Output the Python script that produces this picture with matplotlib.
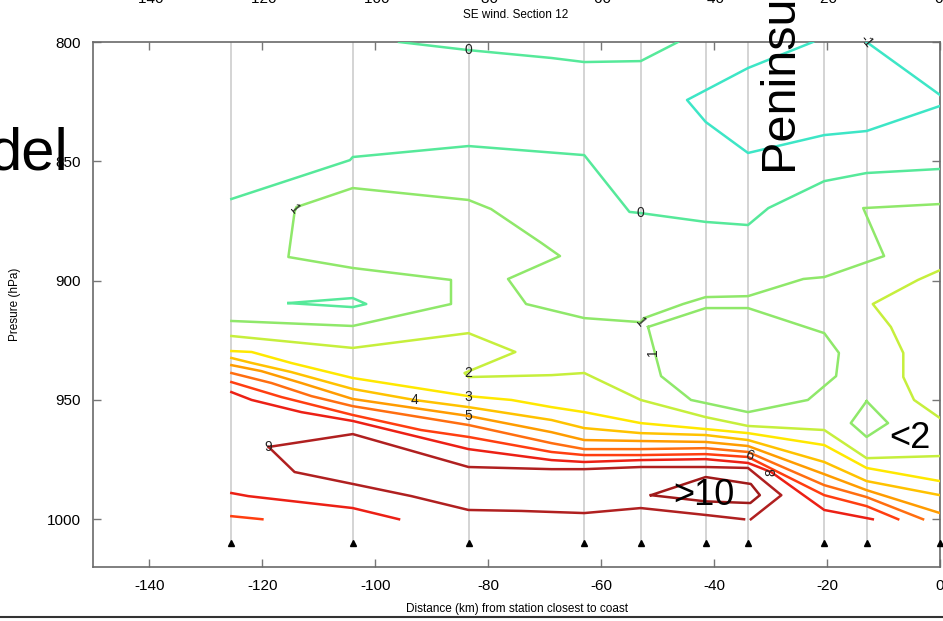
import matplotlib
matplotlib.use('Agg')
import matplotlib.pyplot as plt
from matplotlib.lines import Line2D

plt.rcParams['font.family'] = ['Liberation Sans', 'DejaVu Sans']
plt.rcParams['axes.unicode_minus'] = False

# stations along the section (km from station closest to coast)
stations = [-125.5, -104, -83.5, -63, -53, -41.5, -34, -20.5, -13, 0]
station_p = 1010

# contour lines: (distance km, pressure hPa)
c_m1_a = [(-22.5, 800), (-34, 810.9), (-44.8, 824.3), (-41.5, 833.5), (-34, 846.5),
          (-20.5, 839), (-13, 837.3), (0, 826.8)]
c_m1_b = [(-13, 800), (0, 822.2)]

c_0_a = [(-125.5, 865.8), (-104.5, 849.5), (-104, 848.2), (-83.5, 843.6), (-63, 847.4),
         (-55, 871.2), (-53, 871.7), (-41.5, 875.4), (-34, 876.7), (-30.4, 869.6),
         (-20.5, 858.3), (-13, 854.9), (0, 853.2)]
c_0_b = [(-95.8, 800), (-83.5, 803.4), (-68.8, 806.7), (-63, 808.4), (-53, 808), (-46.4, 800)]
c_0_c = [(-115.4, 909.4), (-104, 907.3), (-101.6, 909.8), (-104, 911.1), (-115.4, 909.4)]

c_1_a = [(-125.5, 916.9), (-104, 919), (-86.6, 909.8), (-86.6, 899.7), (-104, 894.7),
         (-115.4, 890.1), (-114.3, 871.2), (-114, 869.2), (-104, 861.2), (-83.5, 866.2),
         (-79.5, 870), (-70.6, 884.2), (-67.3, 889.7), (-76.5, 899.3), (-73.3, 909.8),
         (-63, 915.7), (-53, 917.4), (-52.4, 915.7), (-45.5, 909.8), (-41.5, 906.9),
         (-34, 906.5), (-24.2, 899.3), (-20.5, 898.5), (-9.9, 889.7), (-13.6, 869.6),
         (0, 867.9)]
c_1_b = [(-51.7, 919.4), (-49.4, 940), (-44.1, 950), (-34, 955.1), (-23.4, 950),
         (-18.4, 940), (-17.9, 930.3), (-20.5, 922), (-34, 911.5), (-41.5, 911.5),
         (-51.7, 919.4)]
c_1_c = [(-13, 950.5), (-9.2, 959.7), (-13, 965.5), (-15.8, 959.7), (-13, 950.5)]

c_2_a = [(-125.5, 923.2), (-104, 928.2), (-83.5, 922), (-75.2, 929.9), (-84.2, 938.7),
         (-83.5, 940.4), (-68.8, 939.6), (-63, 938.7), (-53, 950), (-41.5, 957.2),
         (-34, 960.9), (-20.5, 962.6), (-13, 974.4), (0, 973.5)]
c_2_b = [(0, 895.6), (-3.9, 899.7), (-11.9, 909.8), (-8.7, 919.4), (-6.5, 930.3),
         (-6.5, 940.4), (-4.6, 950), (0, 957.6)]

c_3 = [(-125.5, 929.5), (-121.9, 929.9), (-114.9, 934.5), (-104, 940.8), (-83.5, 948.4),
       (-75.9, 950), (-68.8, 953), (-63, 955.1), (-53, 959.7), (-41.5, 962.2),
       (-34, 963.9), (-20.5, 968.9), (-13, 978.5), (0, 984)]
c_4 = [(-125.5, 932.4), (-121.9, 934.5), (-114.9, 938.3), (-104, 945.4), (-93.1, 950),
       (-83.5, 953), (-68.8, 958.4), (-63, 961.8), (-53, 963.9), (-41.5, 964.7),
       (-34, 966.8), (-20.5, 976), (-13, 984), (0, 989.9)]
c_5 = [(-125.5, 935.4), (-120.2, 937.9), (-113.1, 942.9), (-104, 949.6), (-83.5, 956.7),
       (-68.8, 963.5), (-63, 966.8), (-53, 967.2), (-41.5, 967.6), (-34, 969.3),
       (-20.5, 981.1), (-13, 987.8), (0, 997.4)]
c_6 = [(-125.5, 938.7), (-118.4, 942.9), (-111.3, 948.4), (-104, 952.6), (-83.5, 960.5),
       (-68.8, 968.1), (-63, 970.6), (-53, 970.6), (-41.5, 970.2), (-34, 971.8),
       (-20.5, 985.7), (-13, 990.7), (-3, 1000)]
c_7_a = [(-125.5, 942.5), (-116.6, 948.8), (-104, 956.3), (-91.9, 962.6), (-83.5, 965.5),
         (-68.8, 971.8), (-63, 973.1), (-53, 973.1), (-41.5, 972.7), (-34, 973.9),
         (-20.5, 989.9), (-13, 994.5), (-7.4, 1000)]
c_7_b = [(-125.5, 998.7), (-120, 1000)]
c_8_a = [(-125.5, 946.7), (-121.9, 950), (-113.1, 955.1), (-104, 958.8), (-83.5, 970.6),
         (-68.8, 975.2), (-63, 976), (-53, 975.2), (-41.5, 974.8), (-34, 976.4),
         (-29.9, 980.2), (-20.5, 996.1), (-11.9, 1000)]
c_8_b = [(-125.5, 989), (-122.5, 990.3), (-104, 995.3), (-95.8, 1000)]
c_9_a = [(-118.9, 969.7), (-104, 964.3), (-83.5, 978.1), (-68.8, 979), (-63, 979),
         (-53, 978.1), (-41.5, 978.1), (-34, 978.5), (-28.1, 989.9), (-33.5, 1000)]
c_9_b = [(-118.9, 969.7), (-114.3, 980.2), (-104, 985.2), (-93.6, 990.3), (-83.5, 996.1),
         (-74.2, 996.5), (-63, 997.4), (-53, 995.3), (-41.5, 998.2), (-34.7, 1000)]
c_10 = [(-51.2, 989.9), (-41.5, 982.3), (-33.5, 985.2), (-31.9, 989.9), (-33.6, 993.2),
        (-41.5, 992.5), (-51.2, 989.9)]

# inline contour labels: text, km, hPa, rotation
contour_labels = [("0", -83.5, 803.4, 0), ("0", -53, 871.7, 0), ("1", -114.3, 870, -50),
                  ("1", -53, 917.4, -50), ("1", -50.8, 930, 90), ("2", -83.5, 938.7, 0),
                  ("3", -83.5, 948.8, 0), ("4", -93.1, 950, 0), ("5", -83.5, 956.7, 0),
                  ("9", -118.9, 969.7, 0), ("6", -33.8, 973.1, -20), ("8", -29.9, 980.2, 90),
                  ("-1", -13, 799.5, -50)]

level_colors = {-1: '#3de6c6', 0: '#56e99a', 1: '#8fe86a', 2: '#c6ef3c', 3: '#ffe800',
                4: '#ffc200', 5: '#ff9c00', 6: '#ff6e10', 7: '#ff3e10', 8: '#ec2015',
                9: '#b02020', 10: '#a01a1a'}

lines = [(c_m1_a, -1), (c_m1_b, -1), (c_0_a, 0), (c_0_b, 0), (c_0_c, 0),
         (c_1_a, 1), (c_1_b, 1), (c_1_c, 1), (c_2_a, 2), (c_2_b, 2),
         (c_3, 3), (c_4, 4), (c_5, 5), (c_6, 6), (c_7_a, 7), (c_7_b, 7),
         (c_8_a, 8), (c_8_b, 8), (c_9_a, 9), (c_9_b, 9), (c_10, 10)]

fig = plt.figure(figsize=(9.43, 6.21), dpi=100)
ax = fig.add_axes([93 / 943, 54 / 621, 847 / 943, 525 / 621])

ax.vlines(stations, 800, station_p, colors='#cdcdcd', lw=1.2, zorder=1)
ax.plot(stations, [station_p] * len(stations), '^', color='k', ms=5, clip_on=False, zorder=4)

for pts, lev in lines:
    xs = [p[0] for p in pts]
    ys = [p[1] for p in pts]
    ax.plot(xs, ys, color=level_colors[lev], lw=1.8, zorder=3)

for txt, x, y, rot in contour_labels:
    ax.text(x, y, txt, fontsize=10, ha='center', va='center', rotation=rot, color='#222222',
            zorder=5, clip_on=False)

ax.text(-41.8, 989.9, '>10', fontsize=26, ha='center', va='center', zorder=6)
ax.text(-5.3, 966, '<2', fontsize=26, ha='center', va='center', zorder=6)

ax.set_xlim(-150, 0)
ax.set_ylim(1020, 800)
ax.set_xticks([-140, -120, -100, -80, -60, -40, -20, 0])
ax.set_yticks([800, 850, 900, 950, 1000])
ax.tick_params(direction='in', top=True, right=True, length=6, width=1, color='#777777',
               labelsize=11, pad=9)
for s in ax.spines.values():
    s.set_color('#6a6a6a')
    s.set_linewidth(1.2)

ax.set_xlabel('Distance (km) from station closest to coast', fontsize=8.5, labelpad=7)
ax.set_ylabel('Presure (hPa)', fontsize=8.5)
ax.yaxis.set_label_coords(-0.085, 0.5)

fig.text(516 / 943, 1 - 15 / 621, 'SE wind. Section 12', fontsize=8.5, ha='center', va='center')

# bits of the slide around the figure
for t in [-140, -120, -100, -80, -60, -40, -20, 0]:
    fig.text((939 + 5.647 * t) / 943, 1 - 3 / 621, str(t), fontsize=11, ha='center', va='baseline')
fig.text(68 / 943, 1 - 170 / 621, 'del', fontsize=43, ha='right', va='baseline')
fig.text(792 / 943, 1 - 170 / 621, 'Peninsu', fontsize=35, rotation=90, rotation_mode='anchor',
         ha='left', va='baseline')
fig.add_artist(Line2D([0, 1], [4 / 621, 4 / 621], transform=fig.transFigure, color='#333333', lw=1.5))

fig.savefig('out.png', dpi=100)
